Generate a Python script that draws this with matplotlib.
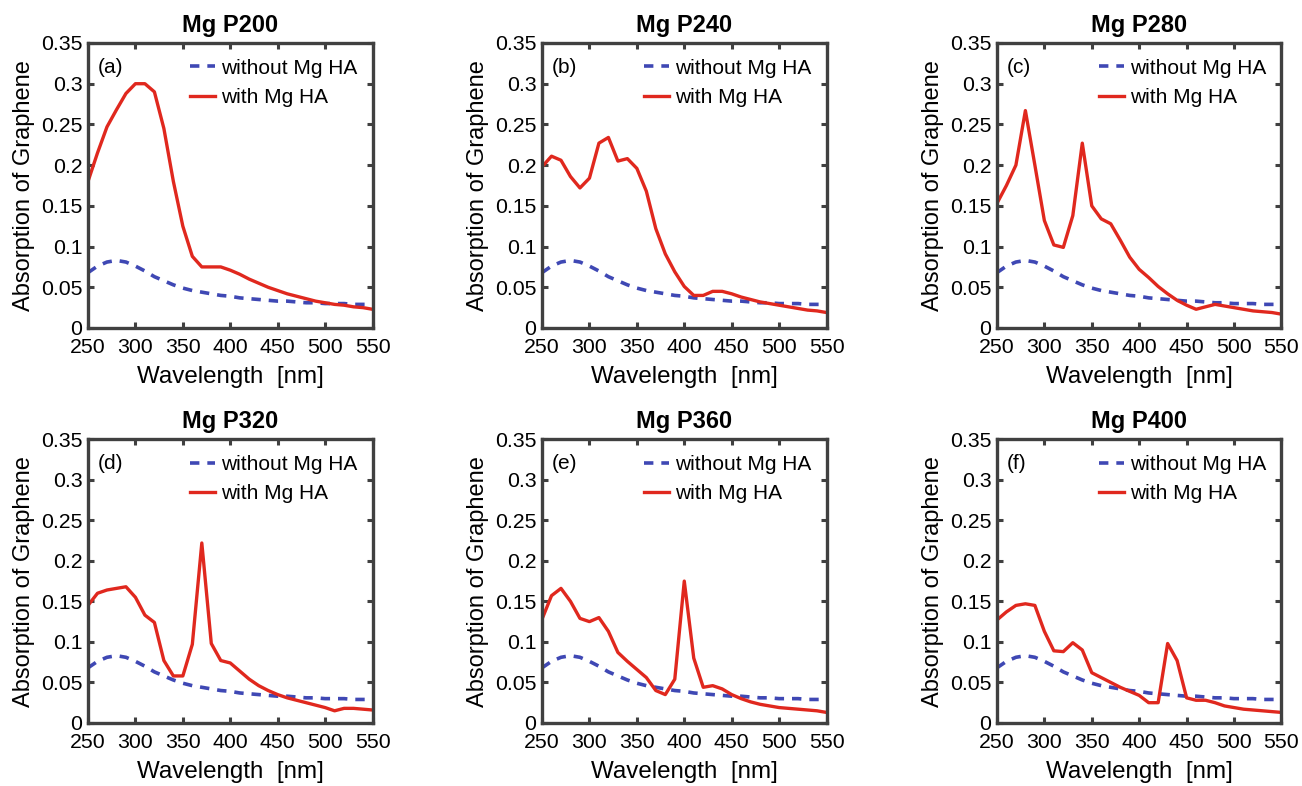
import numpy as np
import matplotlib
matplotlib.use("Agg")
import matplotlib.pyplot as plt

plt.rcParams['font.family'] = ['Liberation Sans', 'DejaVu Sans']

# wavelength grid (nm)
wavelength = np.arange(250, 551, 10)

# reference curve, the same in every panel
without_ha = [0.068, 0.076, 0.081, 0.083, 0.081, 0.076, 0.070, 0.063, 0.058, 0.053,
              0.049, 0.046, 0.044, 0.042, 0.040, 0.039, 0.037, 0.036, 0.035, 0.034,
              0.033, 0.033, 0.032, 0.031, 0.031, 0.030, 0.030, 0.030, 0.029, 0.029, 0.029]

with_p200 = [0.180, 0.215, 0.247, 0.268, 0.288, 0.300, 0.300, 0.290, 0.245, 0.180,
             0.125, 0.088, 0.075, 0.075, 0.075, 0.071, 0.066, 0.060, 0.055, 0.050,
             0.046, 0.042, 0.039, 0.036, 0.033, 0.031, 0.029, 0.028, 0.026, 0.025, 0.023]
with_p240 = [0.198, 0.211, 0.206, 0.186, 0.172, 0.184, 0.227, 0.234, 0.205, 0.208,
             0.196, 0.168, 0.122, 0.091, 0.069, 0.051, 0.040, 0.040, 0.045, 0.045,
             0.042, 0.038, 0.035, 0.032, 0.030, 0.028, 0.026, 0.024, 0.022, 0.021, 0.019]
with_p280 = [0.153, 0.175, 0.200, 0.267, 0.200, 0.132, 0.102, 0.099, 0.138, 0.227,
             0.150, 0.134, 0.128, 0.108, 0.087, 0.072, 0.062, 0.051, 0.042, 0.034,
             0.028, 0.023, 0.026, 0.029, 0.027, 0.025, 0.023, 0.021, 0.020, 0.019, 0.017]
with_p320 = [0.145, 0.160, 0.164, 0.166, 0.168, 0.155, 0.133, 0.124, 0.077, 0.058,
             0.058, 0.097, 0.222, 0.098, 0.077, 0.074, 0.064, 0.054, 0.046, 0.040,
             0.035, 0.031, 0.028, 0.025, 0.022, 0.019, 0.015, 0.018, 0.018, 0.017, 0.016]
with_p360 = [0.128, 0.157, 0.166, 0.150, 0.129, 0.125, 0.130, 0.113, 0.087, 0.076,
             0.066, 0.056, 0.040, 0.035, 0.054, 0.175, 0.080, 0.044, 0.046, 0.042,
             0.035, 0.030, 0.026, 0.023, 0.021, 0.019, 0.018, 0.017, 0.016, 0.015, 0.013]
with_p400 = [0.127, 0.137, 0.145, 0.147, 0.145, 0.113, 0.089, 0.088, 0.099, 0.090,
             0.062, 0.056, 0.050, 0.044, 0.039, 0.034, 0.025, 0.025, 0.098, 0.077,
             0.031, 0.028, 0.028, 0.025, 0.021, 0.019, 0.017, 0.016, 0.015, 0.014, 0.013]

titles = ['Mg P200', 'Mg P240', 'Mg P280', 'Mg P320', 'Mg P360', 'Mg P400']
letters = ['(a)', '(b)', '(c)', '(d)', '(e)', '(f)']
series = [with_p200, with_p240, with_p280, with_p320, with_p360, with_p400]

fig = plt.figure(figsize=(13.02, 7.86), dpi=100)

lefts = [0.0676, 0.4163, 0.7657]
rows = [(0.5827, 0.3626), (0.0802, 0.361)]
frame_col = '#404040'

for i in range(6):
    r, c = divmod(i, 3)
    bottom, height = rows[r]
    ax = fig.add_axes([lefts[c], bottom, 0.2185, height])
    ax.plot(wavelength, without_ha, '--', color='#3f48b4', lw=2.6,
            dashes=(2.6, 2.2), label='without Mg HA')
    ax.plot(wavelength, series[i], '-', color='#e0281e', lw=2.4, label='with Mg HA')
    ax.set_xlim(250, 550)
    ax.set_ylim(0, 0.35)
    ax.set_xticks(np.arange(250, 551, 50))
    ax.set_yticks(np.arange(0, 0.351, 0.05))
    ax.set_yticklabels(['0', '0.05', '0.1', '0.15', '0.2', '0.25', '0.3', '0.35'])
    ax.tick_params(direction='in', top=True, right=True, length=4, width=2.2,
                   color=frame_col, labelsize=15.3)
    ax.tick_params(axis='x', pad=7)
    ax.tick_params(axis='y', pad=4)
    for s in ax.spines.values():
        s.set_linewidth(2.4)
        s.set_color(frame_col)
    ax.set_title(titles[i], fontsize=17, fontweight='bold', pad=8)
    ax.set_xlabel('Wavelength  [nm]', fontsize=17.4, labelpad=7)
    ax.set_ylabel('Absorption of Graphene', fontsize=17, labelpad=4)
    ax.text(0.035, 0.895, letters[i], transform=ax.transAxes, fontsize=15)
    ax.legend(loc='upper right', frameon=False, fontsize=15, handlelength=1.2,
              handletextpad=0.25, labelspacing=0.5, borderaxespad=0.05,
              borderpad=0.7)

fig.savefig('out.png', dpi=100)
